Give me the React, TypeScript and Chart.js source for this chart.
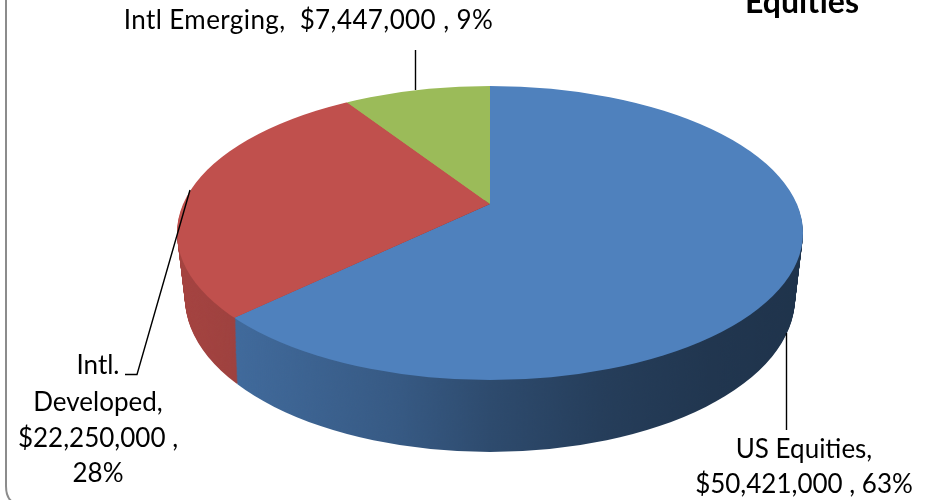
import React, { useEffect, useRef } from "react";
import { Chart, registerables } from "chart.js";

Chart.register(...registerables);

const categories = ["US Equities", "Intl. Developed", "Intl Emerging"];
const values = [50421000, 22250000, 7447000];
const colors = ["#4F81BD", "#C0504D", "#9BBB59"];
const titleText = "Equities";

const FONT = "Lato, Carlito, sans-serif";
const FONT_SIZE = 26;
const TITLE_SIZE = 32;

const labelBlocks = [
  { lines: ["Intl Emerging,  $7,447,000 , 9%"], cx: 308.5, baselines: [29], spacing: "0.4px" },
  { lines: ["Intl.", "Developed,", "$22,250,000 ,", "28%"], cx: 98, baselines: [374, 411, 447, 482], spacing: "0px" },
  { lines: ["US Equities,", "$50,421,000 , 63%"], cx: 804, baselines: [458, 493], spacing: "0px" },
];

const leaders = [
  [[415.5, 50], [415.5, 90]],
  [[125, 374.5], [137, 374.5], [190, 190]],
  [[786.5, 333], [786.5, 430]],
];

const TOP = { cy: 233, rx: 313, ry: 147, apexY: 204 };
const BOTTOM = { cy: 298, rx: 305, ry: 154, apexY: 271 };
const CX = 490;
const SQUASH = 0.47;
const REACH = 460;

const shadeStops = [
  [0, 0.14],
  [0.1, 0.18],
  [0.35, 0.3],
  [0.5, 0.42],
  [0.68, 0.52],
  [0.85, 0.58],
  [1, 0.6],
];

function withFace(ctx: CanvasRenderingContext2D, meta: any, t: number, fn: () => void) {
  const cy = TOP.cy + (BOTTOM.cy - TOP.cy) * t;
  const rx = TOP.rx + (BOTTOM.rx - TOP.rx) * t;
  const ry = TOP.ry + (BOTTOM.ry - TOP.ry) * t;
  const apexY = TOP.apexY + (BOTTOM.apexY - TOP.apexY) * t;
  const arc = meta.data[0];
  const k = REACH / arc.outerRadius;
  ctx.beginPath();
  ctx.ellipse(CX, cy, rx, ry, 0, 0, Math.PI * 2);
  ctx.clip();
  ctx.translate(CX, apexY);
  ctx.scale(k, k * SQUASH);
  ctx.translate(-arc.x, -arc.y);
  fn();
}

const pie3d = {
  id: "pie3d",
  beforeDatasetsDraw(chart: any) {
    const ctx: CanvasRenderingContext2D = chart.ctx;
    const meta = chart.getDatasetMeta(0);
    const steps = BOTTOM.cy - TOP.cy;
    for (let i = steps; i >= 1; i--) {
      ctx.save();
      withFace(ctx, meta, i / steps, () => meta.data.forEach((a: any) => a.draw(ctx)));
      ctx.restore();
    }
    ctx.save();
    ctx.globalCompositeOperation = "source-atop";
    const g = ctx.createLinearGradient(178, 0, 803, 0);
    shadeStops.forEach(([p, al]) => g.addColorStop(p, `rgba(0,0,0,${al})`));
    ctx.fillStyle = g;
    ctx.fillRect(170, 200, 640, 270);
    ctx.restore();
    ctx.save();
    withFace(ctx, meta, 0, () => meta.data.forEach((a: any) => a.draw(ctx)));
    ctx.restore();
    return false;
  },
  afterDraw(chart: any) {
    const ctx: CanvasRenderingContext2D = chart.ctx;
    ctx.save();
    // frame
    ctx.strokeStyle = "#8c8c8c";
    ctx.lineWidth = 2;
    ctx.beginPath();
    ctx.moveTo(6, -2);
    ctx.lineTo(6, 486);
    ctx.quadraticCurveTo(6, 502, 18, 504);
    ctx.stroke();
    // leaders
    ctx.strokeStyle = "#000";
    ctx.lineWidth = 1.4;
    leaders.forEach((pts) => {
      ctx.beginPath();
      pts.forEach(([x, y], i) => (i ? ctx.lineTo(x, y) : ctx.moveTo(x, y)));
      ctx.stroke();
    });
    // labels
    ctx.fillStyle = "#000";
    ctx.textAlign = "center";
    ctx.textBaseline = "alphabetic";
    ctx.font = `${FONT_SIZE}px ${FONT}`;
    labelBlocks.forEach((b) => {
      (ctx as any).letterSpacing = b.spacing;
      b.lines.forEach((l, i) => ctx.fillText(l, b.cx, b.baselines[i]));
    });
    (ctx as any).letterSpacing = "0px";
    ctx.font = `bold ${TITLE_SIZE}px ${FONT}`;
    ctx.fillText(titleText, 802, 13);
    ctx.restore();
  },
};

export default function App() {
  const ref = useRef<HTMLCanvasElement>(null);
  useEffect(() => {
    const chart = new Chart(ref.current!, {
      type: "pie",
      data: {
        labels: categories,
        datasets: [{ data: values, backgroundColor: colors, borderWidth: 0, clip: false } as any],
      },
      options: {
        responsive: false,
        animation: false,
        layout: { padding: 0 },
        plugins: { legend: { display: false }, title: { display: false }, tooltip: { enabled: false } },
      },
      plugins: [pie3d as any],
    });
    return () => chart.destroy();
  }, []);
  return (
    <div style={{ position: "absolute", left: 0, top: 0, width: 939, height: 500, overflow: "hidden", background: "#fff" }}>
      <canvas ref={ref} width={939} height={500} style={{ display: "block" }} />
    </div>
  );
}
